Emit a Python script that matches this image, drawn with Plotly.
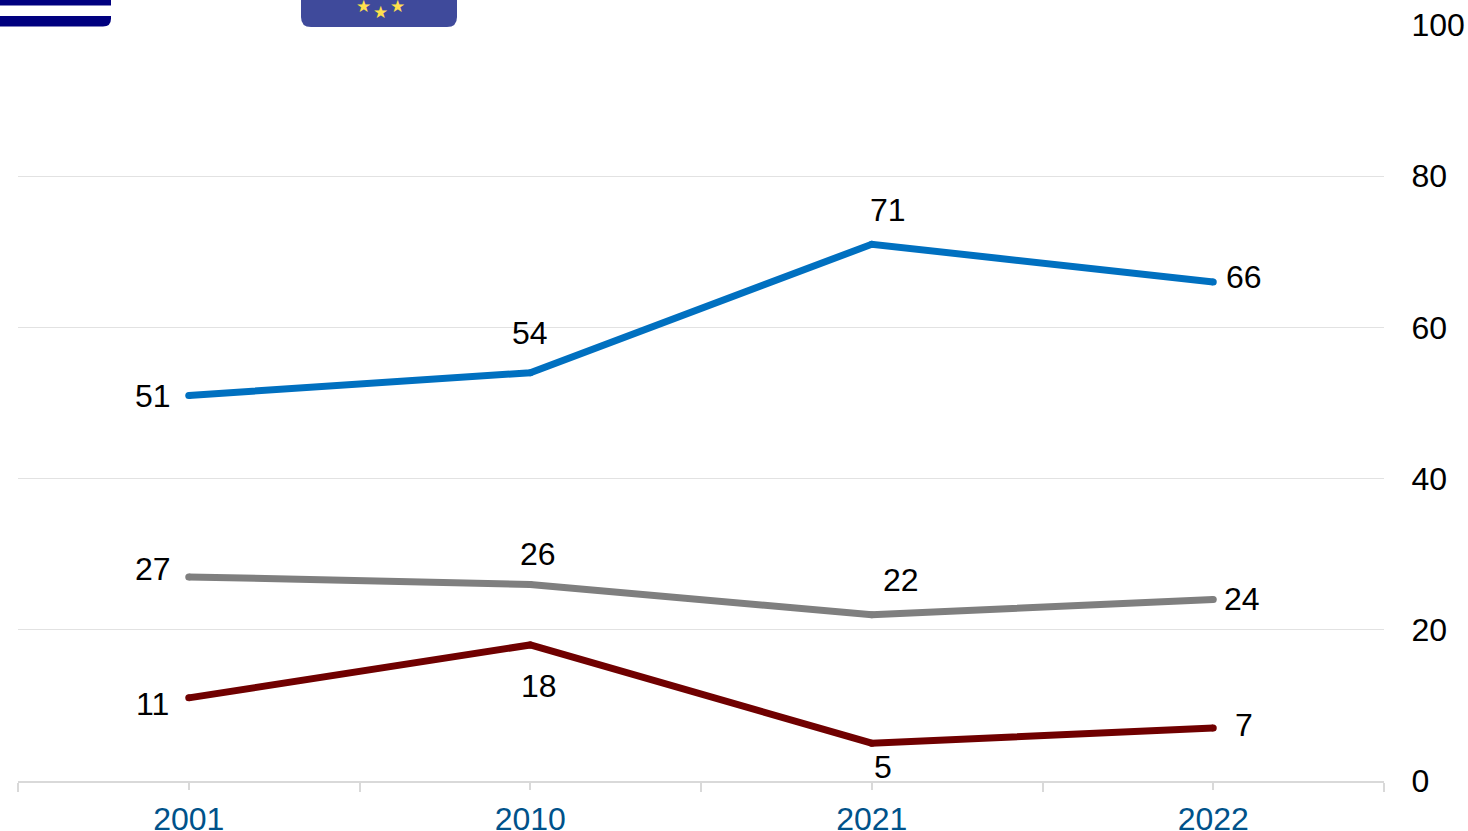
import plotly.graph_objects as go

YEARS = ["2001", "2010", "2021", "2022"]
BLUE_VALUES = [51, 54, 71, 66]
GREY_VALUES = [27, 26, 22, 24]
RED_VALUES = [11, 18, 5, 7]
Y_TICKS = [0, 20, 40, 60, 80, 100]

W, H = 1468, 831
L, R, T, B = 18, 84, 25, 50
FONT = "Liberation Sans, Arial, sans-serif"
SIZE = 32

# label offsets in pixels (dx, dy up), per series and point
series = [
    (BLUE_VALUES, "#0070c0", [(-36, -1), (0, 40), (16, 34), (31, 5)]),
    (GREY_VALUES, "#7f7f7f", [(-36, 8), (8, 30), (29, 35), (29, 1)]),
    (RED_VALUES, "#700000", [(-36, -6), (9, -41), (11, -24), (31, 3)]),
]

fig = go.Figure()
annotations = []
xs = list(range(len(YEARS)))
for values, color, offsets in series:
    fig.add_trace(go.Scatter(x=xs, y=values, mode="lines+markers", showlegend=False, hoverinfo="skip",
                             line=dict(color=color, width=7, shape="linear", simplify=False),
                             marker=dict(color=color, size=7, line_width=0), cliponaxis=False))
    for i, v in enumerate(values):
        annotations.append(dict(x=i, y=v, xref="x", yref="y", text=str(v), showarrow=False,
                                xshift=offsets[i][0], yshift=offsets[i][1],
                                font=dict(family=FONT, size=SIZE, color="#000000")))

def px(x):
    return (x - L) / (W - L - R)

def py(y):
    return 1 - (y - T) / (H - T - B)

def rounded(x0, x1, y0, y1, r):
    return (f"M {px(x0)} {py(y0)} L {px(x1)} {py(y0)} L {px(x1)} {py(y1 - r)} "
            f"Q {px(x1)} {py(y1)} {px(x1 - r)} {py(y1)} L {px(x0 + r)} {py(y1)} "
            f"Q {px(x0)} {py(y1)} {px(x0)} {py(y1 - r)} Z")

shapes = [
    dict(type="path", xref="paper", yref="paper", path=rounded(-10, 111, -5, 26.5, 8),
         fillcolor="#00007f", line_width=0, layer="above"),
    dict(type="rect", xref="paper", yref="paper", x0=px(-10), x1=px(111), y0=py(5.5), y1=py(16),
         fillcolor="#ffffff", line_width=0, layer="above"),
    dict(type="path", xref="paper", yref="paper", path=rounded(301, 457, -5, 27, 10),
         fillcolor="#3f4a9b", line_width=0, layer="above"),
]
for sx, sy in [(363, 6), (380, 12), (397, 6)]:
    annotations.append(dict(x=px(sx), y=py(sy), xref="paper", yref="paper", text="★", showarrow=False,
                            xanchor="center", yanchor="middle",
                            font=dict(family="DejaVu Sans", size=17, color="#ffe14d")))

fig.update_layout(
    width=W, height=H, autosize=False,
    margin=dict(l=L, r=R, t=T, b=B, pad=0, autoexpand=False),
    paper_bgcolor="#ffffff", plot_bgcolor="#ffffff",
    shapes=shapes, annotations=annotations,
    xaxis=dict(
        automargin=False,
        range=[-0.5, 3.5], tickmode="array", tickvals=xs, ticktext=YEARS,
        ticks="outside", ticklen=7, tickwidth=2, tickcolor="#d9d9d9",
        ticklabelstandoff=2,
        minor=dict(tick0=-0.5, dtick=1, ticks="outside", ticklen=9, tickwidth=2,
                   tickcolor="#d9d9d9", showgrid=False),
        showgrid=False, zeroline=False, showline=True, linecolor="#d9d9d9", linewidth=2,
        tickfont=dict(family=FONT, size=SIZE, color="#00528a"),
    ),
    yaxis=dict(
        automargin=False,
        side="right", range=[0, 100], tickmode="array", tickvals=Y_TICKS,
        ticks="outside", ticklen=20, tickwidth=1, tickcolor="rgba(0,0,0,0)",
        showline=False, zeroline=False,
        showgrid=True, gridcolor="#e2e2e2", gridwidth=1,
        tickfont=dict(family=FONT, size=SIZE, color="#000000"),
    ),
)

fig.write_html("out.html", config=dict(displayModeBar=False),
               post_script="document.body.style.margin='0';document.body.style.overflow='hidden';")
